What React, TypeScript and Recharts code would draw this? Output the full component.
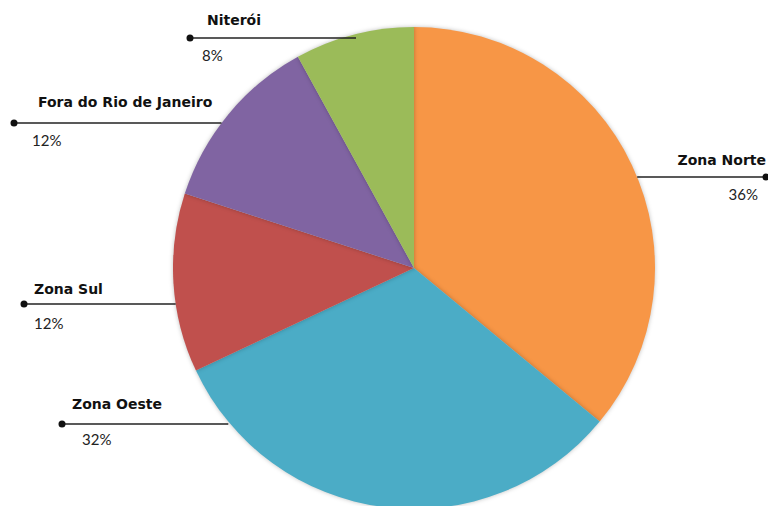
import React from "react";
import { PieChart, Pie, Cell } from "recharts";

const categories = ["Zona Norte", "Zona Oeste", "Zona Sul", "Fora do Rio de Janeiro", "Niterói"];
const shares = [36, 32, 12, 12, 8];
const colors = ["#F79646", "#4BACC6", "#C0504D", "#8064A2", "#9BBB59"];

// label layout: dot x, line y, name offset, percent offset, line inset (styling only)
const labelLayout = [
  { side: "right", dotX: 766, lineY: 177, nameDx: 0, nameDy: -17, pctDx: -8, pctDy: 17, inset: 0 },
  { side: "left", dotX: 62, lineY: 424, nameDx: 10, nameDy: -20, pctDx: 20, pctDy: 15, inset: -2 },
  { side: "left", dotX: 24, lineY: 304, nameDx: 10, nameDy: -15, pctDx: 10, pctDy: 19, inset: 0 },
  { side: "left", dotX: 14, lineY: 123, nameDx: 24, nameDy: -21, pctDx: 18, pctDy: 17, inset: 0 },
  { side: "left", dotX: 190, lineY: 38, nameDx: 17, nameDy: -18, pctDx: 12, pctDy: 17, inset: 14 },
];

const data = categories.map((name, i) => ({ name, value: shares[i] }));
const total = shares.reduce((a, b) => a + b, 0);

const CX = 414;
const CY = 268;
const R = 241;
const NAME_FONT = "'DejaVu Sans', Lato, sans-serif";
const PCT_FONT = "Lato, 'DejaVu Sans', sans-serif";

const renderLabel = (props: any) => {
  const { index, value } = props;
  const cx = typeof props.cx === "number" ? props.cx : CX;
  const cy = typeof props.cy === "number" ? props.cy : CY;
  const r = typeof props.outerRadius === "number" ? props.outerRadius : R;
  const L = labelLayout[index];
  const dy = L.lineY - cy;
  const half = Math.sqrt(Math.max(0, r * r - dy * dy));
  const edgeX = L.side === "right" ? cx + half - L.inset : cx - half + L.inset;
  const pct = Math.round((value / total) * 100) + "%";
  const anchor = L.side === "right" ? "end" : "start";
  return (
    <g key={`lbl-${index}`}>
      <line x1={L.dotX} y1={L.lineY} x2={edgeX} y2={L.lineY} stroke="#222" strokeWidth={1.5} />
      <circle cx={L.dotX} cy={L.lineY} r={3.5} fill="#111" />
      <text
        x={L.dotX + L.nameDx}
        y={L.lineY + L.nameDy}
        textAnchor={anchor}
        dominantBaseline="central"
        fontFamily={NAME_FONT}
        fontWeight={700}
        fontSize={14}
        fill="#111"
      >
        {categories[index]}
      </text>
      <text
        x={L.dotX + L.pctDx}
        y={L.lineY + L.pctDy}
        textAnchor={anchor}
        dominantBaseline="central"
        fontFamily={PCT_FONT}
        fontSize={15}
        fill="#222"
      >
        {pct}
      </text>
    </g>
  );
};

export default function App() {
  return (
    <div style={{ position: "absolute", left: 0, top: 0, width: 768, height: 506, background: "#fff" }}>
      <PieChart width={768} height={506} margin={{ top: 0, right: 0, bottom: 0, left: 0 }}>
        <Pie
          data={data}
          dataKey="value"
          nameKey="name"
          cx={CX}
          cy={CY}
          outerRadius={R}
          startAngle={90}
          endAngle={-270}
          stroke="none"
          labelLine={false}
          label={renderLabel}
          isAnimationActive={false}
          style={{ filter: "drop-shadow(0px 0px 2px rgba(0,0,0,0.25))" }}
        >
          {data.map((d, i) => (
            <Cell key={d.name} fill={colors[i]} />
          ))}
        </Pie>
      </PieChart>
    </div>
  );
}
